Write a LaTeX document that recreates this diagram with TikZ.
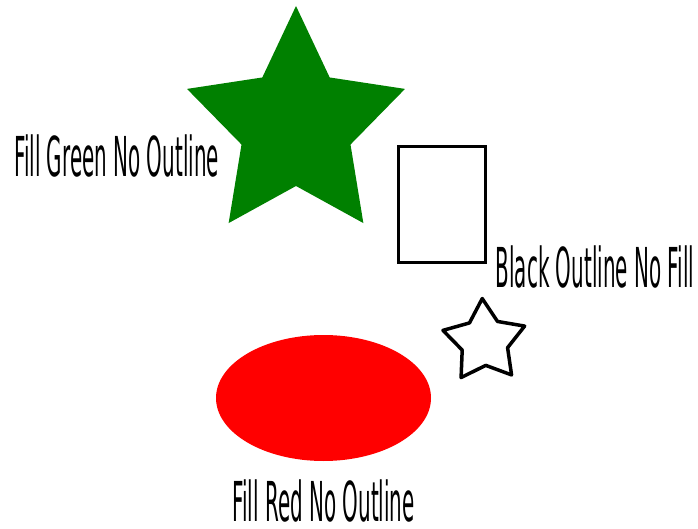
\documentclass[tikz,border=0pt]{standalone}
\usepackage{fontspec}
\usepackage{tikz}
\usetikzlibrary{shapes,positioning}
\newfontfamily\thinsans[FakeStretch=0.362]{DejaVu Sans}
\definecolor{leafgreen}{RGB}{0,128,0}

\begin{document}
\begin{tikzpicture}[x=1pt,y=-1pt,
  starshape/.style={star,star points=5,inner sep=0pt},
  lbl/.style={font=\fontsize{55}{60}\selectfont\thinsans,anchor=base,inner sep=0pt}
]
\useasboundingbox (0,0) rectangle (698,529);

% Shapes
\node[starshape,star point ratio=2,minimum size=240pt,xscale=0.955,fill=leafgreen] (bigstar) at (296,126) {};
\node[draw,line width=3.5pt,minimum width=87pt,minimum height=116pt,inner sep=0pt] (box) at (442,204.5) {};
\node[starshape,star point ratio=1.8,minimum size=86pt,rotate=3,draw,line width=3.5pt,line join=round] (smallstar) at (484.5,341.5) {};
\node[ellipse,fill=red,minimum width=215pt,minimum height=126pt,inner sep=0pt] (oval) at (323.5,398) {};

% Labels
\node[lbl] (greenlbl) at (116.5,177) {Fill Green No Outline};
\node[lbl] (boxlbl)   at (595,287)   {Black Outline No Fill};
\node[lbl] (redlbl)   at (323.5,521) {Fill Red No Outline};
\end{tikzpicture}
\end{document}
